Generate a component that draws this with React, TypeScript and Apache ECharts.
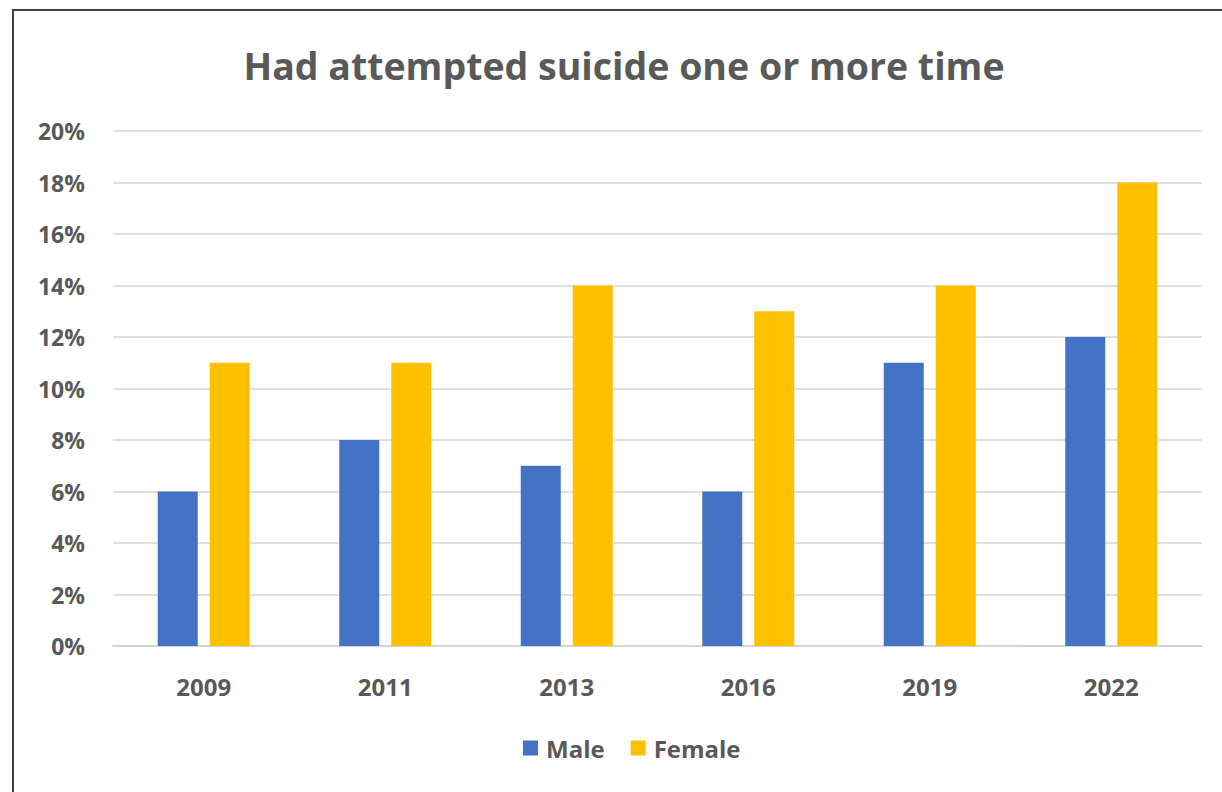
import React, { useEffect, useRef } from "react";
import * as echarts from "echarts";

const categories = ["2009", "2011", "2013", "2016", "2019", "2022"];
const maleValues = [6, 8, 7, 6, 11, 12];
const femaleValues = [11, 11, 14, 13, 14, 18];
const titleText = "Had attempted suicide one or more time";

const FONT = "'Open Sans', Lato, sans-serif";
const TEXT = "#595959";

export default function App() {
  const ref = useRef<HTMLDivElement>(null);

  useEffect(() => {
    if (!ref.current) return;
    const chart = echarts.init(ref.current, null, { renderer: "svg" });
    chart.setOption({
      animation: false,
      backgroundColor: "#ffffff",
      title: {
        text: titleText,
        top: 41,
        left: 619,
        textAlign: "center",
        textStyle: { color: TEXT, fontSize: 37.5, fontWeight: "bold", fontFamily: FONT },
      },
      graphic: [
        {
          type: "polyline",
          shape: { points: [[13, 800], [13, 10], [1230, 10]] },
          style: { stroke: "#404040", lineWidth: 2, fill: "none" },
        },
      ],
      legend: {
        data: ["Male", "Female"],
        left: 518,
        top: 731,
        itemWidth: 15,
        itemHeight: 15,
        itemGap: 26,
        icon: "rect",
        textStyle: { color: TEXT, fontSize: 24, fontWeight: "bold", fontFamily: FONT, padding: [0, 0, 0, 3] },
      },
      grid: { left: 113, right: 20, top: 131, bottom: 146 },
      xAxis: {
        type: "category",
        data: categories,
        axisLine: { lineStyle: { color: "#d0d0d0", width: 1.5 } },
        axisTick: { show: false },
        axisLabel: { color: TEXT, fontSize: 24, fontWeight: "bold", fontFamily: FONT, margin: 28 },
      },
      yAxis: {
        type: "value",
        min: 0,
        max: 20,
        interval: 2,
        axisLine: { show: false },
        axisTick: { show: false },
        splitLine: { lineStyle: { color: "#d4d4d4", width: 1.5 } },
        axisLabel: {
          color: TEXT,
          fontSize: 23,
          fontWeight: "bold",
          fontFamily: FONT,
          margin: 28,
          formatter: (v: number) => `${v}%`,
        },
      },
      series: [
        {
          name: "Male",
          type: "bar",
          data: maleValues,
          barWidth: 40,
          barGap: "30%",
          itemStyle: { color: "#4472C4" },
        },
        {
          name: "Female",
          type: "bar",
          data: femaleValues,
          barWidth: 40,
          barGap: "30%",
          itemStyle: { color: "#FFC000" },
        },
      ],
    });
    return () => chart.dispose();
  }, []);

  return (
    <div
      ref={ref}
      style={{ position: "fixed", left: 0, top: 0, width: 1222, height: 792 }}
    />
  );
}
